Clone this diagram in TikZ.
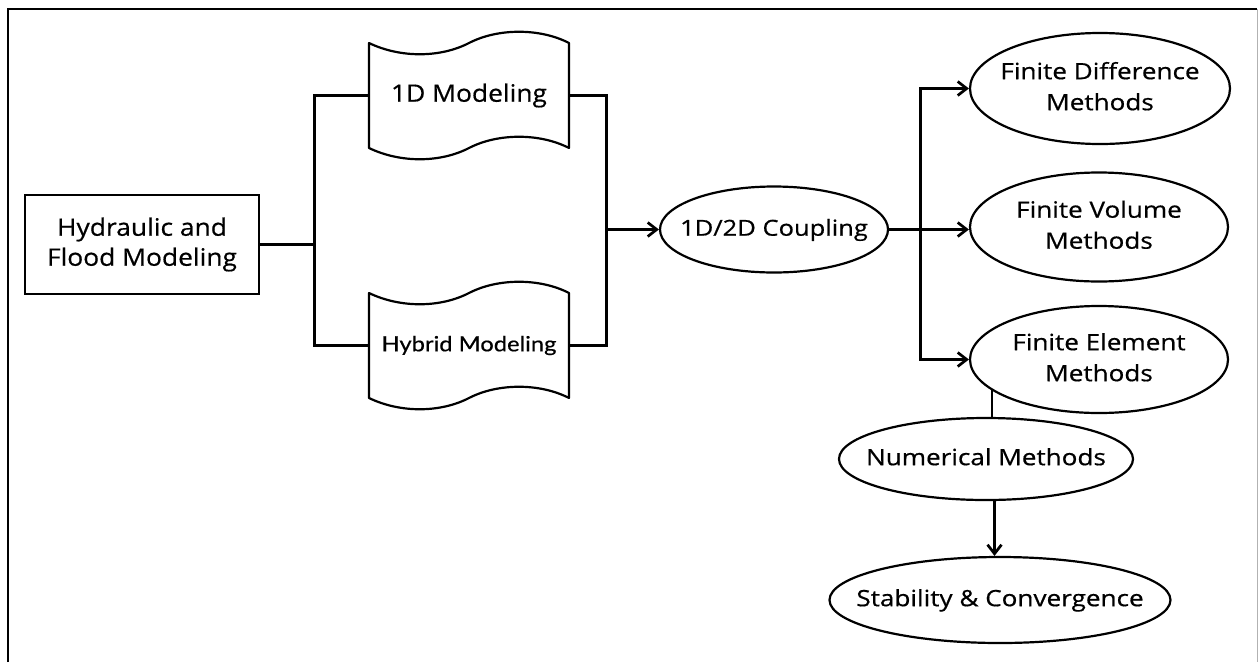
\documentclass[tikz,border=0pt]{standalone}
\usepackage{fontspec}
\setmainfont[FakeStretch=1.1,FakeBold=0.6]{Open Sans}
\newfontfamily\ellfont[FakeStretch=1.16,FakeBold=0.6]{Open Sans}
\newfontfamily\latofont[FakeStretch=1.13,FakeBold=0.5]{Lato}
\usetikzlibrary{arrows.meta,shapes.geometric}
\newcommand\ztext[1]{\makebox[0pt]{\begin{tabular}{@{}c@{}}#1\end{tabular}}}
\begin{document}
\begin{tikzpicture}[x=1pt,y=-1pt,
  base/.style={font=\fontsize{24}{30}\selectfont, align=center, inner sep=0pt},
  ell/.style={base, font=\ellfont\fontsize{22.5}{31}\selectfont, draw, ellipse, line width=2.2pt},
  boxnode/.style={base, draw, rectangle, line width=2.2pt, minimum width=234pt, minimum height=99pt},
  docnode/.style={base, rectangle, minimum width=200pt, minimum height=105pt},
  shapeline/.style={line width=2.2pt, line join=round},
  conn/.style={line width=2.7pt},
  arr/.style={-{Straight Barb[length=9pt,width=14pt]}, line width=2.7pt}]
\useasboundingbox (0,0) rectangle (1260,662);
\draw[line width=1.5pt] (8,662) -- (8,9) -- (1257,9);
\draw[line width=1pt, black!30] (1257,9) -- (1257,662);

\node[boxnode] (hyd) at (142,244.5) {Hydraulic and\\Flood Modeling};

\node[docnode] (doc1) at (469,95.5) {1D Modeling};
\node[docnode, font=\latofont\fontsize{21}{24}\selectfont] (doc2) at (469,345.5) {Hybrid Modeling};
\foreach \d in {doc1,doc2}{
  \begin{scope}[shift={(\d.center)}]
    \draw[shapeline] (-100,-52.5) .. controls (-69,-37.5) and (-29,-37.5) .. (0,-52.5)
      .. controls (29,-67.5) and (71,-67.5) .. (100,-52.5) -- (100,52.5)
      .. controls (71,37.5) and (29,37.5) .. (0,52.5)
      .. controls (-29,67.5) and (-69,67.5) .. (-100,52.5) -- cycle;
  \end{scope}
}

\node[ell, font=\ellfont\fontsize{22}{31}\selectfont, minimum width=228pt, minimum height=86pt] (c12) at (774,229.5) {\ztext{1D/2D Coupling}};
\node[ell, minimum width=260pt, minimum height=111pt] (fd) at (1100,88.5) {\ztext{Finite Difference\\Methods}};
\node[ell, minimum width=258pt, minimum height=109pt] (fv) at (1099,227) {\ztext{Finite Volume\\Methods}};
\node[ell, minimum width=258pt, minimum height=107pt] (fe) at (1099,359.5) {\ztext{Finite Element\\Methods}};
\node[ell, minimum width=294pt, minimum height=82pt] (num) at (986,459) {\ztext{Numerical Methods}};
\node[ell, minimum width=341pt, minimum height=86pt] (stab) at (1000,600) {\ztext{Stability \& Convergence}};

\coordinate (jl) at (314.5,244.5);
\draw[conn] (hyd.east) -- (jl);
\draw[conn] (doc1.west) -| (jl) |- (doc2.west);
\coordinate (jr) at (606.5,229.5);
\draw[conn] (doc1.east) -| (jr) |- (doc2.east);
\draw[arr] (jr) -- (c12.west);
\coordinate (jc) at (920.5,229.5);
\draw[conn] (c12.east) -- (jc);
\draw[arr] (jc) |- (fd.west);
\draw[arr] (jc) -- (jc -| fv.west);
\draw[arr] (jc) |- (fe.west);
\coordinate (nx) at (994.5,0);
\draw[conn, line width=2pt] (fe.196.7) -- (fe.196.7 |- num.north);
\draw[arr] (num.south -| nx) -- (stab.north -| nx);
\end{tikzpicture}
\end{document}
